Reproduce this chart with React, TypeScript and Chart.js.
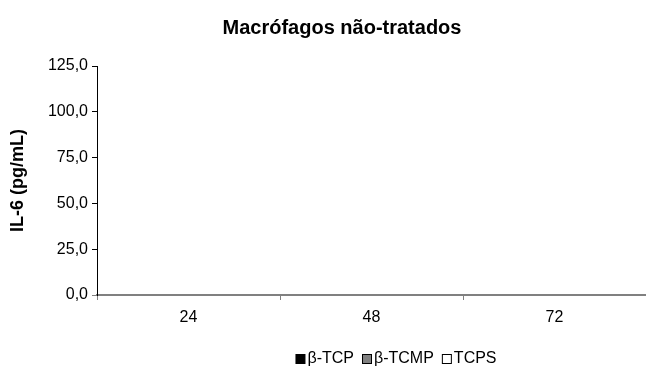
import React, { useEffect, useRef } from "react";
import { Chart, registerables } from "chart.js";

Chart.register(...registerables);

const categories = ["24", "48", "72"];
const seriesNames = ["β-TCP", "β-TCMP", "TCPS"];
const betaTCP = [0, 0, 0];
const betaTCMP = [0, 0, 0];
const tcps = [0, 0, 0];
const seriesColors = ["#000000", "#808080", "#ffffff"];
const yTickMin = 0;
const yTickMax = 125;
const yTickStep = 25;
const titleText = "Macrófagos não-tratados";
const yTitle = "IL-6 (pg/mL)";

const FONT = "'Liberation Sans', Arial, sans-serif";

const customTextPlugin = {
  id: "customText",
  afterDraw(chart: any) {
    const ctx = chart.ctx;
    ctx.save();
    // Title
    ctx.fillStyle = "#000";
    ctx.font = `bold 20px ${FONT}`;
    ctx.textAlign = "center";
    ctx.textBaseline = "middle";
    ctx.fillText(titleText, 342, 28);
    // Legend
    ctx.font = `16px ${FONT}`;
    ctx.textAlign = "left";
    const box = 10;
    const gapBoxText = 2;
    const gapItems = 8;
    const items = chart.data.datasets.map((d: any) => ({
      label: d.label,
      fill: d.backgroundColor,
      w: ctx.measureText(d.label).width,
    }));
    const total =
      items.reduce((a: number, it: any) => a + box + gapBoxText + it.w, 0) +
      gapItems * (items.length - 1);
    let x = 396 - total / 2;
    const cy = 359;
    items.forEach((it: any) => {
      ctx.fillStyle = it.fill;
      ctx.fillRect(x + 0.5, cy - box / 2 + 0.5, box - 1, box - 1);
      ctx.strokeStyle = "#000";
      ctx.lineWidth = 1;
      ctx.strokeRect(x + 0.5, cy - box / 2 + 0.5, box - 1, box - 1);
      ctx.fillStyle = "#000";
      ctx.fillText(it.label, x + box + gapBoxText, cy);
      x += box + gapBoxText + it.w + gapItems;
    });
    ctx.restore();
  },
};

export default function App() {
  const ref = useRef<HTMLCanvasElement | null>(null);
  useEffect(() => {
    document.body.style.margin = "0";
    const values = [betaTCP, betaTCMP, tcps];
    const chart = new Chart(ref.current!, {
      type: "bar",
      data: {
        labels: categories,
        datasets: seriesNames.map((n, i) => ({
          label: n,
          data: values[i],
          backgroundColor: seriesColors[i],
          borderColor: "#000000",
          borderWidth: 1,
        })),
      },
      plugins: [customTextPlugin],
      options: {
        animation: false,
        responsive: false,
        maintainAspectRatio: false,
        layout: { padding: { left: 0, right: 0, top: 66, bottom: 41 } },
        plugins: {
          tooltip: { enabled: false },
          title: { display: false },
          legend: { display: false },
        },
        scales: {
          x: {
            border: { color: "#808080", width: 2 },
            grid: {
              display: true,
              drawOnChartArea: false,
              drawTicks: true,
              tickLength: 5,
              color: "#808080",
              offset: true,
            },
            ticks: {
              color: "#000",
              font: { family: FONT, size: 16 },
              padding: 8,
            },
            afterFit: (s: any) => {
              s.height = 40;
            },
          },
          y: {
            min: yTickMin,
            max: yTickMax,
            border: { color: "#000", width: 1 },
            grid: {
              display: true,
              drawOnChartArea: false,
              drawTicks: true,
              tickLength: 5,
              color: (c: any) => (c.tick && c.tick.value === 0 ? "#808080" : "#000"),
            },
            ticks: {
              stepSize: yTickStep,
              color: "#000",
              font: { family: FONT, size: 16 },
              padding: 4,
              callback: (v: any) => Number(v).toFixed(1).replace(".", ","),
            },
            title: {
              display: true,
              text: yTitle,
              color: "#000",
              font: { family: FONT, size: 18, weight: "bold" },
              padding: { top: 7, bottom: 0 },
            },
            afterFit: (s: any) => {
              s.width = 97;
            },
          },
        },
      },
    });
    return () => chart.destroy();
  }, []);
  return (
    <div style={{ width: 646, height: 376 }}>
      <canvas ref={ref} width={646} height={376} style={{ display: "block" }} />
    </div>
  );
}
